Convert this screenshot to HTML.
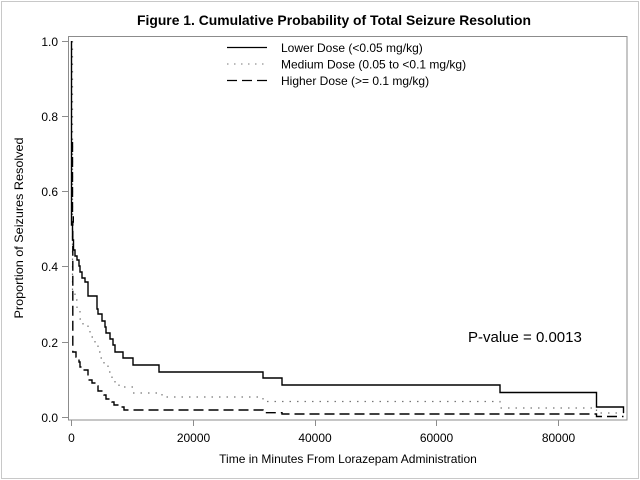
<!DOCTYPE html>
<html>
<head>
<meta charset="utf-8">
<style>
  html,body{margin:0;padding:0;background:#fff;}
  svg{display:block;}
  text{font-family:"Liberation Sans", Arial, sans-serif;fill:#000;}
</style>
</head>
<body>
<svg width="640" height="480" viewBox="0 0 640 480" xmlns="http://www.w3.org/2000/svg">
  <rect x="0" y="0" width="640" height="480" fill="#fff"/>
  <!-- outer border -->
  <rect x="1.5" y="1.5" width="637" height="477" fill="none" stroke="#c8c8c8" stroke-width="1"/>

  <!-- title -->
  <text x="334" y="25" font-size="14" font-weight="bold" text-anchor="middle" textLength="394" lengthAdjust="spacingAndGlyphs">Figure 1. Cumulative Probability of Total Seizure Resolution</text>

  <!-- plot frame -->
  <rect x="68.5" y="36.5" width="558.5" height="383.5" fill="none" stroke="#8c8c8c" stroke-width="1"/>

  <!-- y ticks -->
  <g stroke="#8c8c8c" stroke-width="1" shape-rendering="crispEdges">
    <line x1="62" y1="41.5" x2="68" y2="41.5"/>
    <line x1="62" y1="116.5" x2="68" y2="116.5"/>
    <line x1="62" y1="191.5" x2="68" y2="191.5"/>
    <line x1="62" y1="266.5" x2="68" y2="266.5"/>
    <line x1="62" y1="342.5" x2="68" y2="342.5"/>
    <line x1="62" y1="417.5" x2="68" y2="417.5"/>
    <!-- x ticks -->
    <line x1="71.5" y1="420" x2="71.5" y2="426"/>
    <line x1="193.5" y1="420" x2="193.5" y2="426"/>
    <line x1="315.5" y1="420" x2="315.5" y2="426"/>
    <line x1="436.5" y1="420" x2="436.5" y2="426"/>
    <line x1="558.5" y1="420" x2="558.5" y2="426"/>
  </g>
  <g font-size="12" text-anchor="end">
    <text x="58" y="46">1.0</text>
    <text x="58" y="121">0.8</text>
    <text x="58" y="196">0.6</text>
    <text x="58" y="271">0.4</text>
    <text x="58" y="347">0.2</text>
    <text x="58" y="422">0.0</text>
  </g>
  <g font-size="12" text-anchor="middle">
    <text x="71.5" y="442">0</text>
    <text x="193.5" y="442">20000</text>
    <text x="315" y="442">40000</text>
    <text x="436.5" y="442">60000</text>
    <text x="558.5" y="442">80000</text>
  </g>

  <!-- axis labels -->
  <text x="348" y="463" font-size="12" text-anchor="middle">Time in Minutes From Lorazepam Administration</text>
  <text x="0" y="0" font-size="12" text-anchor="middle" textLength="181" lengthAdjust="spacingAndGlyphs" transform="translate(23,228) rotate(-90)">Proportion of Seizures Resolved</text>

  <!-- P-value -->
  <text x="468" y="342" font-size="15">P-value = 0.0013</text>

  <!-- legend -->
  <line x1="227" y1="47.5" x2="267" y2="47.5" stroke="#000" stroke-width="1.2"/>
  <line x1="227" y1="64" x2="267" y2="64" stroke="#777" stroke-width="1" stroke-dasharray="1.5 5.5"/>
  <line x1="227" y1="80.5" x2="267" y2="80.5" stroke="#000" stroke-width="1.2" stroke-dasharray="10 5"/>
  <g font-size="12">
    <text x="281" y="52">Lower Dose (&lt;0.05 mg/kg)</text>
    <text x="281" y="68.5">Medium Dose (0.05 to &lt;0.1 mg/kg)</text>
    <text x="281" y="85">Higher Dose (&gt;= 0.1 mg/kg)</text>
  </g>

  <!-- curves -->
  <!-- dotted: medium dose -->
  <path d="M72.5,41 V293 H75 V300 H77 V308 H80 V319 H83 V325 H88 V330 H90 V337 H95 V345 H98 V352 H100 V358 H104 V365 H108 V372 H112 V380 H115 V384 H119 V387 H133 V393 H162 V397 H263 V401.5 H500 V408 H596.5 V413 H623.5"
        fill="none" stroke="#777" stroke-width="1.2" stroke-dasharray="1.5 6"/>
  <!-- dashed: higher dose -->
  <path d="M72.5,142 V216 H73.3 V222 H72.8 V352 H76 V357 H79 V362 H80 V367 H83 V370 H88 V380 H92 V383 H96 V386 H98 V391 H104 V395 H106 V399 H112 V402 H114 V405 H120 V407 H124 V410 H263 V412.7 H282 V414 H596.5 V416.5 H623.5"
        fill="none" stroke="#000" stroke-width="1.4" stroke-dasharray="10 5"/>
  <!-- solid: lower dose -->
  <path d="M71.5,41 V225 H72.5 V240 H73.5 V250 H75 V256 H77 V260 H79 V266 H80 V272 H82 V278 H85 V282 H88 V296 H97 V309 H98 V314 H102 V321 H105 V327 H106 V333 H110 V339 H113 V345 H115 V352 H123 V358 H133 V365 H159 V372 H263 V378 H282 V385 H500 V392.5 H596.5 V407 H623.5 V413"
        fill="none" stroke="#000" stroke-width="1.4"/>
</svg>
</body>
</html>
